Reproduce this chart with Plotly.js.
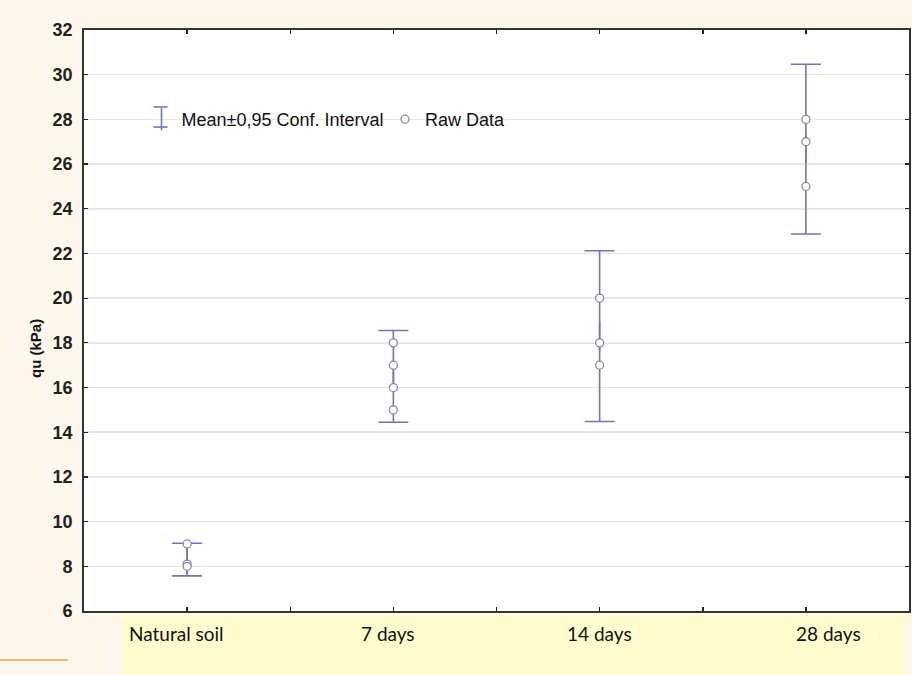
<!DOCTYPE html>
<html>
<head>
<meta charset="utf-8">
<script src="https://cdn.plot.ly/plotly-3.0.1.min.js"></script>
<style>html,body{margin:0;padding:0;background:#fdf6ea;}#chart{width:912px;height:675px;}</style>
</head>
<body>
<div id="chart"></div>
<script>
// Data
const categories = ['Natural soil', '7 days', '14 days', '28 days'];
const catIndex = [0, 1, 2, 3];
const meanValues = [8.3, 16.5, 18.3, 26.67];
const ciHalfWidth = [0.73, 2.05, 3.82, 3.8];
const rawX = [0, 0, 0, 1, 1, 1, 1, 2, 2, 2, 3, 3, 3];
const rawY = [9, 8.1, 8.0, 18, 17, 16, 15, 20, 18, 17, 28, 27, 25];
const yTickVals = [6, 8, 10, 12, 14, 16, 18, 20, 22, 24, 26, 28, 30, 32];
const labelShift = [-11, -5, 0, 23];

const blue = '#6e73c4';
const traces = [
  {
    x: catIndex, y: meanValues, type: 'scatter', mode: 'markers',
    name: 'Mean±0,95 Conf. Interval',
    marker: {symbol: 'line-ns-open', size: 20, color: blue, line: {color: blue, width: 1.6}},
    error_y: {type: 'data', array: ciHalfWidth, visible: true, color: blue, thickness: 1.6, width: 15},
    hoverinfo: 'skip'
  },
  {
    x: rawX, y: rawY, type: 'scatter', mode: 'markers', name: 'Raw Data',
    marker: {symbol: 'circle', size: 8, color: '#ffffff', line: {color: '#8587b5', width: 1.3}}
  }
];

const annotations = categories.map((c, i) => ({
  text: c, x: catIndex[i], xref: 'x', y: -0.038, yref: 'paper',
  xanchor: 'center', yanchor: 'middle', showarrow: false, xshift: labelShift[i],
  font: {family: 'Lato, "Open Sans", sans-serif', size: 19, color: '#111'}
}));
annotations.push({
  text: '<b>qu (kPa)</b>', xref: 'paper', yref: 'paper', x: -0.0582, y: 0.4527,
  textangle: -90, showarrow: false, xanchor: 'center', yanchor: 'middle',
  font: {family: '"Liberation Sans", Arial, sans-serif', size: 15, color: '#111'}
});

const layout = {
  width: 912, height: 675,
  margin: {l: 84, r: 3, t: 30, b: 64},
  paper_bgcolor: '#fdf6ea',
  plot_bgcolor: '#ffffff',
  font: {family: '"Liberation Sans", Arial, sans-serif', color: '#222'},
  showlegend: true,
  legend: {
    orientation: 'h', x: 0.0697, y: 0.846, xanchor: 'left', yanchor: 'middle',
    bgcolor: 'rgba(0,0,0,0)', font: {size: 18, color: '#111'},
    entrywidth: 198.5, entrywidthmode: 'pixels', tracegroupgap: 0
  },
  xaxis: {
    range: [-0.5, 3.5], tickmode: 'array',
    tickvals: [0, 0.5, 1, 1.5, 2, 2.5, 3],
    ticktext: ['', '', '', '', '', '', ''],
    ticks: 'inside', ticklen: 4, tickcolor: '#222', tickwidth: 1.5,
    showline: true, linecolor: '#333', linewidth: 1.8, mirror: 'ticks',
    showgrid: false, zeroline: false
  },
  yaxis: {
    range: [6, 32], tickmode: 'array', tickvals: yTickVals,
    ticks: 'inside', ticklen: 4, tickcolor: '#222', tickwidth: 1.2,
    showline: true, linecolor: '#333', linewidth: 1.8, mirror: 'ticks',
    showgrid: true, gridcolor: '#e6e6e6', gridwidth: 1.5, zeroline: false,
    tickfont: {size: 18, weight: 'bold', color: '#222'}, ticklabelstandoff: 6
  },
  annotations: annotations,
  shapes: [
    {type: 'rect', xref: 'paper', yref: 'paper', x0: 0.046, x1: 0.995, y0: -0.006, y1: -0.12,
     fillcolor: '#fefccc', line: {width: 0}, layer: 'below'},
    {type: 'line', xref: 'paper', yref: 'paper', x0: -0.102, x1: -0.0194, y0: -0.0843, y1: -0.0843,
     line: {color: '#f6b36a', width: 2}},
    // caps of the legend's confidence-interval symbol
    {type: 'line', xref: 'paper', yref: 'paper', x0: 0.0842, x1: 0.1012, y0: 0.8675, y1: 0.8675,
     line: {color: blue, width: 1.6}},
    {type: 'line', xref: 'paper', yref: 'paper', x0: 0.0842, x1: 0.1012, y0: 0.8330, y1: 0.8330,
     line: {color: blue, width: 1.6}}
  ]
};

Plotly.newPlot('chart', traces, layout, {displayModeBar: false, staticPlot: true});
</script>
</body>
</html>
